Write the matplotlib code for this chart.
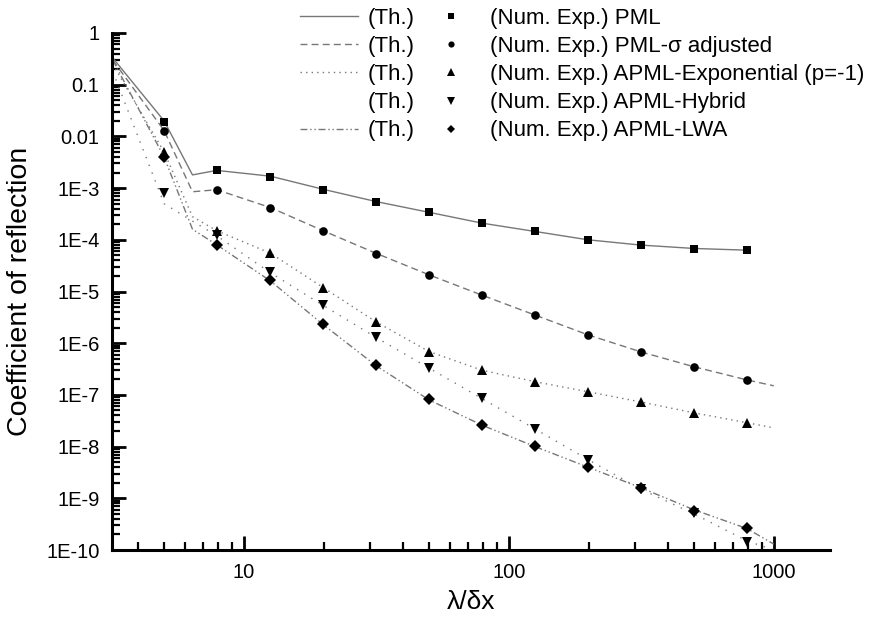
import matplotlib
matplotlib.use("Agg")
import matplotlib.pyplot as plt
from matplotlib.ticker import FixedLocator, LogLocator, NullFormatter
from matplotlib.lines import Line2D

plt.rcParams['font.family'] = ['Liberation Sans', 'DejaVu Sans']

# Numerical experiment abscissae (lambda/dx)
x_num = [5, 7.9, 12.6, 19.9, 31.5, 50, 79.2, 125.6, 199, 315, 500, 792]

pml_num = [0.019, 2.2e-3, 1.65e-3, 9.2e-4, 5.4e-4, 3.4e-4, 2.1e-4, 1.45e-4, 1.0e-4, 7.9e-5, 6.7e-5, 6.3e-5]
pmls_num = [0.0126, 9.1e-4, 4.1e-4, 1.45e-4, 5.4e-5, 2.1e-5, 8.5e-6, 3.45e-6, 1.45e-6, 6.8e-7, 3.5e-7, 1.95e-7]
exp_num = [5.0e-3, 1.45e-4, 5.5e-5, 1.17e-5, 2.55e-6, 6.8e-7, 3.0e-7, 1.8e-7, 1.15e-7, 7.3e-8, 4.5e-8, 2.9e-8]
hyb_num = [8.1e-4, 1.25e-4, 2.35e-5, 5.5e-6, 1.3e-6, 3.3e-7, 8.6e-8, 2.15e-8, 5.5e-9, 1.5e-9, 5.2e-10, 1.4e-10]
lwa_num = [4.0e-3, 7.9e-5, 1.65e-5, 2.35e-6, 3.8e-7, 8.2e-8, 2.6e-8, 1.02e-8, 4.1e-9, 1.6e-9, 5.8e-10, 2.7e-10]

# Theoretical curves
x_pml_th = [3.2, 5, 6.4, 7.9, 12.6, 19.9, 31.5, 50, 79.2, 125.6, 199, 315, 500, 792]
pml_th = [0.33, 0.02, 1.8e-3, 2.2e-3, 1.7e-3, 9.5e-4, 5.5e-4, 3.4e-4, 2.1e-4, 1.45e-4, 1.0e-4, 7.9e-5, 6.8e-5, 6.3e-5]

x_th = [3.2, 5, 6.4, 7.9, 12.6, 19.9, 31.5, 50, 79.2, 125.6, 199, 315, 500, 792, 1000]
pmls_th = [0.30, 0.013, 8.5e-4, 9.3e-4, 4.2e-4, 1.5e-4, 5.5e-5, 2.1e-5, 8.5e-6, 3.5e-6, 1.45e-6, 6.8e-7, 3.5e-7, 1.95e-7, 1.5e-7]
exp_th = [0.25, 5.0e-3, 2.8e-4, 1.5e-4, 5.5e-5, 1.2e-5, 2.6e-6, 6.9e-7, 3.0e-7, 1.8e-7, 1.15e-7, 7.3e-8, 4.5e-8, 2.9e-8, 2.3e-8]
hyb_th = [0.18, 5.0e-4, 2.3e-4, 1.2e-4, 2.3e-5, 5.4e-6, 1.3e-6, 3.3e-7, 8.5e-8, 2.2e-8, 5.6e-9, 1.5e-9, 5.0e-10, 1.5e-10, 1.0e-10]
lwa_th = [0.30, 4.0e-3, 1.6e-4, 8.0e-5, 1.6e-5, 2.3e-6, 3.7e-7, 8.0e-8, 2.6e-8, 1.0e-8, 4.0e-9, 1.6e-9, 6.0e-10, 2.6e-10, 1.3e-10]

names = ["(Num. Exp.) PML", "(Num. Exp.) PML-\u03c3 adjusted",
         "(Num. Exp.) APML-Exponential (p=-1)", "(Num. Exp.) APML-Hybrid",
         "(Num. Exp.) APML-LWA"]
ytick_vals = [1, 0.1, 0.01, 1e-3, 1e-4, 1e-5, 1e-6, 1e-7, 1e-8, 1e-9, 1e-10]
ytick_labels = ["1", "0.1", "0.01", "1E-3", "1E-4", "1E-5", "1E-6", "1E-7", "1E-8", "1E-9", "1E-10"]
xtick_vals = [10, 100, 1000]
xtick_labels = ["10", "100", "1000"]

W, H = 885, 621
fig = plt.figure(figsize=(W / 100, H / 100), dpi=100)
ax = fig.add_axes([112 / W, 1 - 550 / H, (830 - 112) / W, (550 - 33) / H])
ax.set_xscale('log')
ax.set_yscale('log')

lc = '#777777'
styles = ['-', (0, (5, 3)), (0, (1, 3)), (0, (1, 5)), (0, (5, 2, 1, 2, 1, 2))]
markers = ['s', 'o', '^', 'v', 'D']
msizes = [5.3, 6.2, 7.3, 7.3, 6.0]

th_x = [x_pml_th, x_th, x_th, x_th, x_th]
th_y = [pml_th, pmls_th, exp_th, hyb_th, lwa_th]
num_y = [pml_num, pmls_num, exp_num, hyb_num, lwa_num]

line_handles = []
mark_handles = []
for i in range(5):
    ax.plot(th_x[i], th_y[i], color=lc, lw=1.0, linestyle=styles[i])
    ax.plot(x_num, num_y[i], linestyle='none', marker=markers[i],
            color='black', markersize=msizes[i], markeredgewidth=0)
    if i == 3:
        # legend sample of this curve is blank in the reference
        line_handles.append(Line2D([], [], linestyle='none'))
    else:
        line_handles.append(Line2D([], [], color=lc, lw=1.0, linestyle=styles[i]))
    mark_handles.append(Line2D([], [], linestyle='none', marker=markers[i],
                               color='black', markersize=msizes[i] * 0.72,
                               markeredgewidth=0))

ax.set_xlim(3.18, 1630)
ax.set_ylim(1e-10, 1)

for s in ['top', 'right']:
    ax.spines[s].set_visible(False)
for s in ['left', 'bottom']:
    ax.spines[s].set_linewidth(2.2)

ax.yaxis.set_major_locator(FixedLocator(ytick_vals))
ax.set_yticklabels(ytick_labels)
ax.yaxis.set_minor_locator(LogLocator(base=10, subs=range(2, 10), numticks=20))
ax.yaxis.set_minor_formatter(NullFormatter())
ax.xaxis.set_major_locator(FixedLocator(xtick_vals))
ax.set_xticklabels(xtick_labels)
ax.xaxis.set_minor_locator(LogLocator(base=10, subs=range(2, 10), numticks=20))
ax.xaxis.set_minor_formatter(NullFormatter())

ax.tick_params(which='major', direction='in', length=10, width=2, labelsize=14.5, pad=9)
ax.tick_params(which='minor', direction='in', length=6, width=1.6)

ax.set_xlabel("\u03bb/\u03b4x", fontsize=19)
ax.xaxis.set_label_coords(0.5, -(590 - 550) / 517)
ax.set_ylabel("Coefficient of reflection", fontsize=20.5)
ax.yaxis.set_label_coords(-(112 - 33) / 718, 0.5)

leg = ax.legend(line_handles + mark_handles, ["(Th.)"] * 5 + names, ncol=2,
                frameon=False, fontsize=16, handlelength=2.6, handletextpad=0.45,
                columnspacing=0.35, labelspacing=0.32, borderpad=0.0,
                borderaxespad=0.0,
                loc='upper left', bbox_to_anchor=(300 / W, 1 - 8 / H),
                bbox_transform=fig.transFigure)

fig.savefig("out.png", dpi=100)
